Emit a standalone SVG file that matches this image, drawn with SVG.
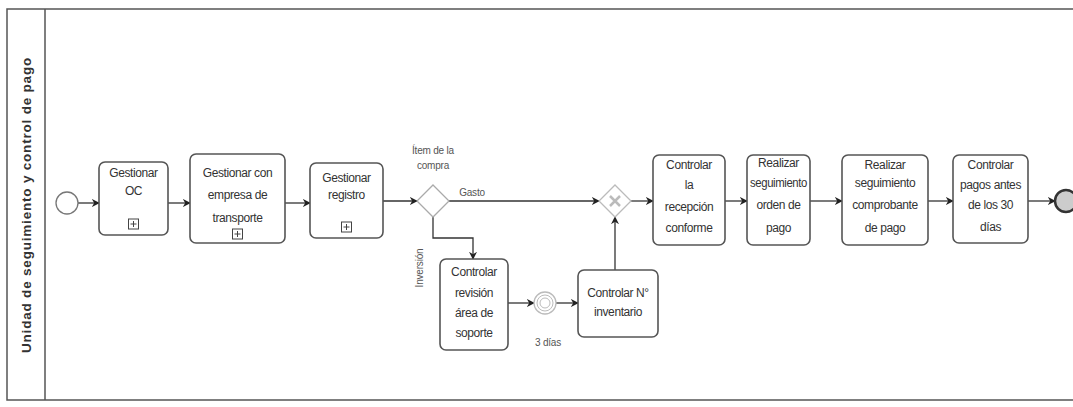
<svg xmlns="http://www.w3.org/2000/svg" width="1073" height="407" viewBox="0 0 1073 407">
<style>
.task{fill:#fff;stroke:#555;stroke-width:1.6}
.t{font-family:"Liberation Sans",Arial,sans-serif;font-size:12px;letter-spacing:-0.4px;fill:#333;text-anchor:middle}
.lbl{font-family:"Liberation Sans",Arial,sans-serif;font-size:10px;letter-spacing:-0.2px;fill:#555;text-anchor:middle}
.flow{fill:none;stroke:#333;stroke-width:1.3;marker-end:url(#arr)}
.sub{fill:#fff;stroke:#444;stroke-width:1}
</style>
<defs>
<marker id="arr" viewBox="0 0 10 10" refX="9" refY="5" markerWidth="8" markerHeight="8" orient="auto" markerUnits="userSpaceOnUse">
<path d="M0,0 L10,5 L0,10 L3,5 z" fill="#222"/>
</marker>
</defs>
<rect width="1073" height="407" fill="#fff"/>
<g id="pool">
<rect x="7" y="9" width="1080" height="391" fill="none" stroke="#555" stroke-width="1.5"/>
<line x1="45" y1="9" x2="45" y2="400" stroke="#555" stroke-width="1.5"/>
<text transform="translate(31,205) rotate(-90)" font-family="'Liberation Sans',Arial,sans-serif" font-size="13.5" font-weight="bold" letter-spacing="0.8" fill="#333" text-anchor="middle">Unidad de seguimiento y control de pago</text>
</g>
<g id="connectors">
<path class="flow" d="M78,203 H99"/>
<path class="flow" d="M168,203 H190"/>
<path class="flow" d="M285,203 H310"/>
<path class="flow" d="M383,201 H417"/>
<path class="flow" d="M449,201 H599"/>
<path class="flow" d="M631,201 H653"/>
<path class="flow" d="M725,201 H747"/>
<path class="flow" d="M810,201 H842"/>
<path class="flow" d="M928,201 H953"/>
<path class="flow" d="M1028,201 H1055"/>
<path class="flow" d="M433,217 V238 H473 V259"/>
<path class="flow" d="M508,303 H534"/>
<path class="flow" d="M556,303 H578"/>
<path class="flow" d="M615,270 V217"/>
<text class="lbl" x="472" y="196">Gasto</text>
<text class="lbl" transform="translate(423,268) rotate(-90)">Inversión</text>
</g>
<g id="start"><circle cx="67" cy="203" r="11" fill="#fff" stroke="#777" stroke-width="1.3"/></g>
<g id="task1">
<rect class="task" x="99" y="162" width="69" height="73" rx="6"/>
<text class="t" x="133.5" y="177">Gestionar</text>
<text class="t" x="133.5" y="195">OC</text>
<rect class="sub" x="128.5" y="219" width="10" height="10"/><path d="M133.5,221v6M130.5,224h6" stroke="#444"/>
</g>
<g id="task2">
<rect class="task" x="190" y="154" width="95" height="89" rx="6"/>
<text class="t" x="237.5" y="177">Gestionar con</text>
<text class="t" x="237.5" y="199">empresa de</text>
<text class="t" x="237.5" y="222">transporte</text>
<rect class="sub" x="232.5" y="229" width="10" height="10"/><path d="M237.5,231v6M234.5,234h6" stroke="#444"/>
</g>
<g id="task3">
<rect class="task" x="310" y="163" width="73" height="75" rx="6"/>
<text class="t" x="346.5" y="182">Gestionar</text>
<text class="t" x="346.5" y="199">registro</text>
<rect class="sub" x="341.5" y="222" width="10" height="10"/><path d="M346.5,224v6M343.5,227h6" stroke="#444"/>
</g>
<g id="gateway1">
<path d="M433,185 L449,201 L433,217 L417,201 Z" fill="#fff" stroke="#aaa" stroke-width="1.3"/>
<text class="lbl" x="433" y="154">Ítem de la</text>
<text class="lbl" x="433" y="169">compra</text>
</g>
<g id="gateway2">
<path d="M615,185 L631,201 L615,217 L599,201 Z" fill="#fff" stroke="#bbb" stroke-width="1.3"/>
<path d="M610,196 L620,206 M620,196 L610,206" stroke="#bbb" stroke-width="2.5"/>
</g>
<g id="task_revision">
<rect class="task" x="440" y="259" width="68" height="91" rx="6"/>
<text class="t" x="474" y="276">Controlar</text>
<text class="t" x="474" y="297">revisión</text>
<text class="t" x="474" y="317">área de</text>
<text class="t" x="474" y="337">soporte</text>
</g>
<g id="timer">
<circle cx="545" cy="303" r="11" fill="#fff" stroke="#bbb" stroke-width="1.3"/>
<circle cx="545" cy="303" r="8" fill="none" stroke="#bbb" stroke-width="1"/>
<circle cx="545" cy="303" r="5" fill="none" stroke="#bbb" stroke-width="1"/>
<text class="lbl" x="548" y="346">3 días</text>
</g>
<g id="task_inventario">
<rect class="task" x="578" y="270" width="80" height="67" rx="6"/>
<text class="t" x="618" y="297">Controlar N°</text>
<text class="t" x="618" y="316">inventario</text>
</g>
<g id="task_recepcion">
<rect class="task" x="653" y="155" width="72" height="90" rx="6"/>
<text class="t" x="689" y="169">Controlar</text>
<text class="t" x="689" y="189">la</text>
<text class="t" x="689" y="211">recepción</text>
<text class="t" x="689" y="232">conforme</text>
</g>
<g id="task_orden">
<rect class="task" x="747" y="155" width="63" height="90" rx="6"/>
<text class="t" x="778.5" y="167">Realizar</text>
<text class="t" x="778.5" y="187" textLength="57" lengthAdjust="spacingAndGlyphs">seguimiento</text>
<text class="t" x="778.5" y="209">orden de</text>
<text class="t" x="778.5" y="232">pago</text>
</g>
<g id="task_comprobante">
<rect class="task" x="842" y="155" width="86" height="90" rx="6"/>
<text class="t" x="885" y="169">Realizar</text>
<text class="t" x="885" y="187">seguimiento</text>
<text class="t" x="885" y="209">comprobante</text>
<text class="t" x="885" y="232">de pago</text>
</g>
<g id="task_pagos">
<rect class="task" x="953" y="155" width="75" height="88" rx="6"/>
<text class="t" x="990.5" y="169">Controlar</text>
<text class="t" x="990.5" y="189">pagos antes</text>
<text class="t" x="990.5" y="209">de los 30</text>
<text class="t" x="990.5" y="231">días</text>
</g>
<g id="end"><circle cx="1066" cy="201" r="11" fill="#ccc" stroke="#333" stroke-width="2.5"/></g>
</svg>
